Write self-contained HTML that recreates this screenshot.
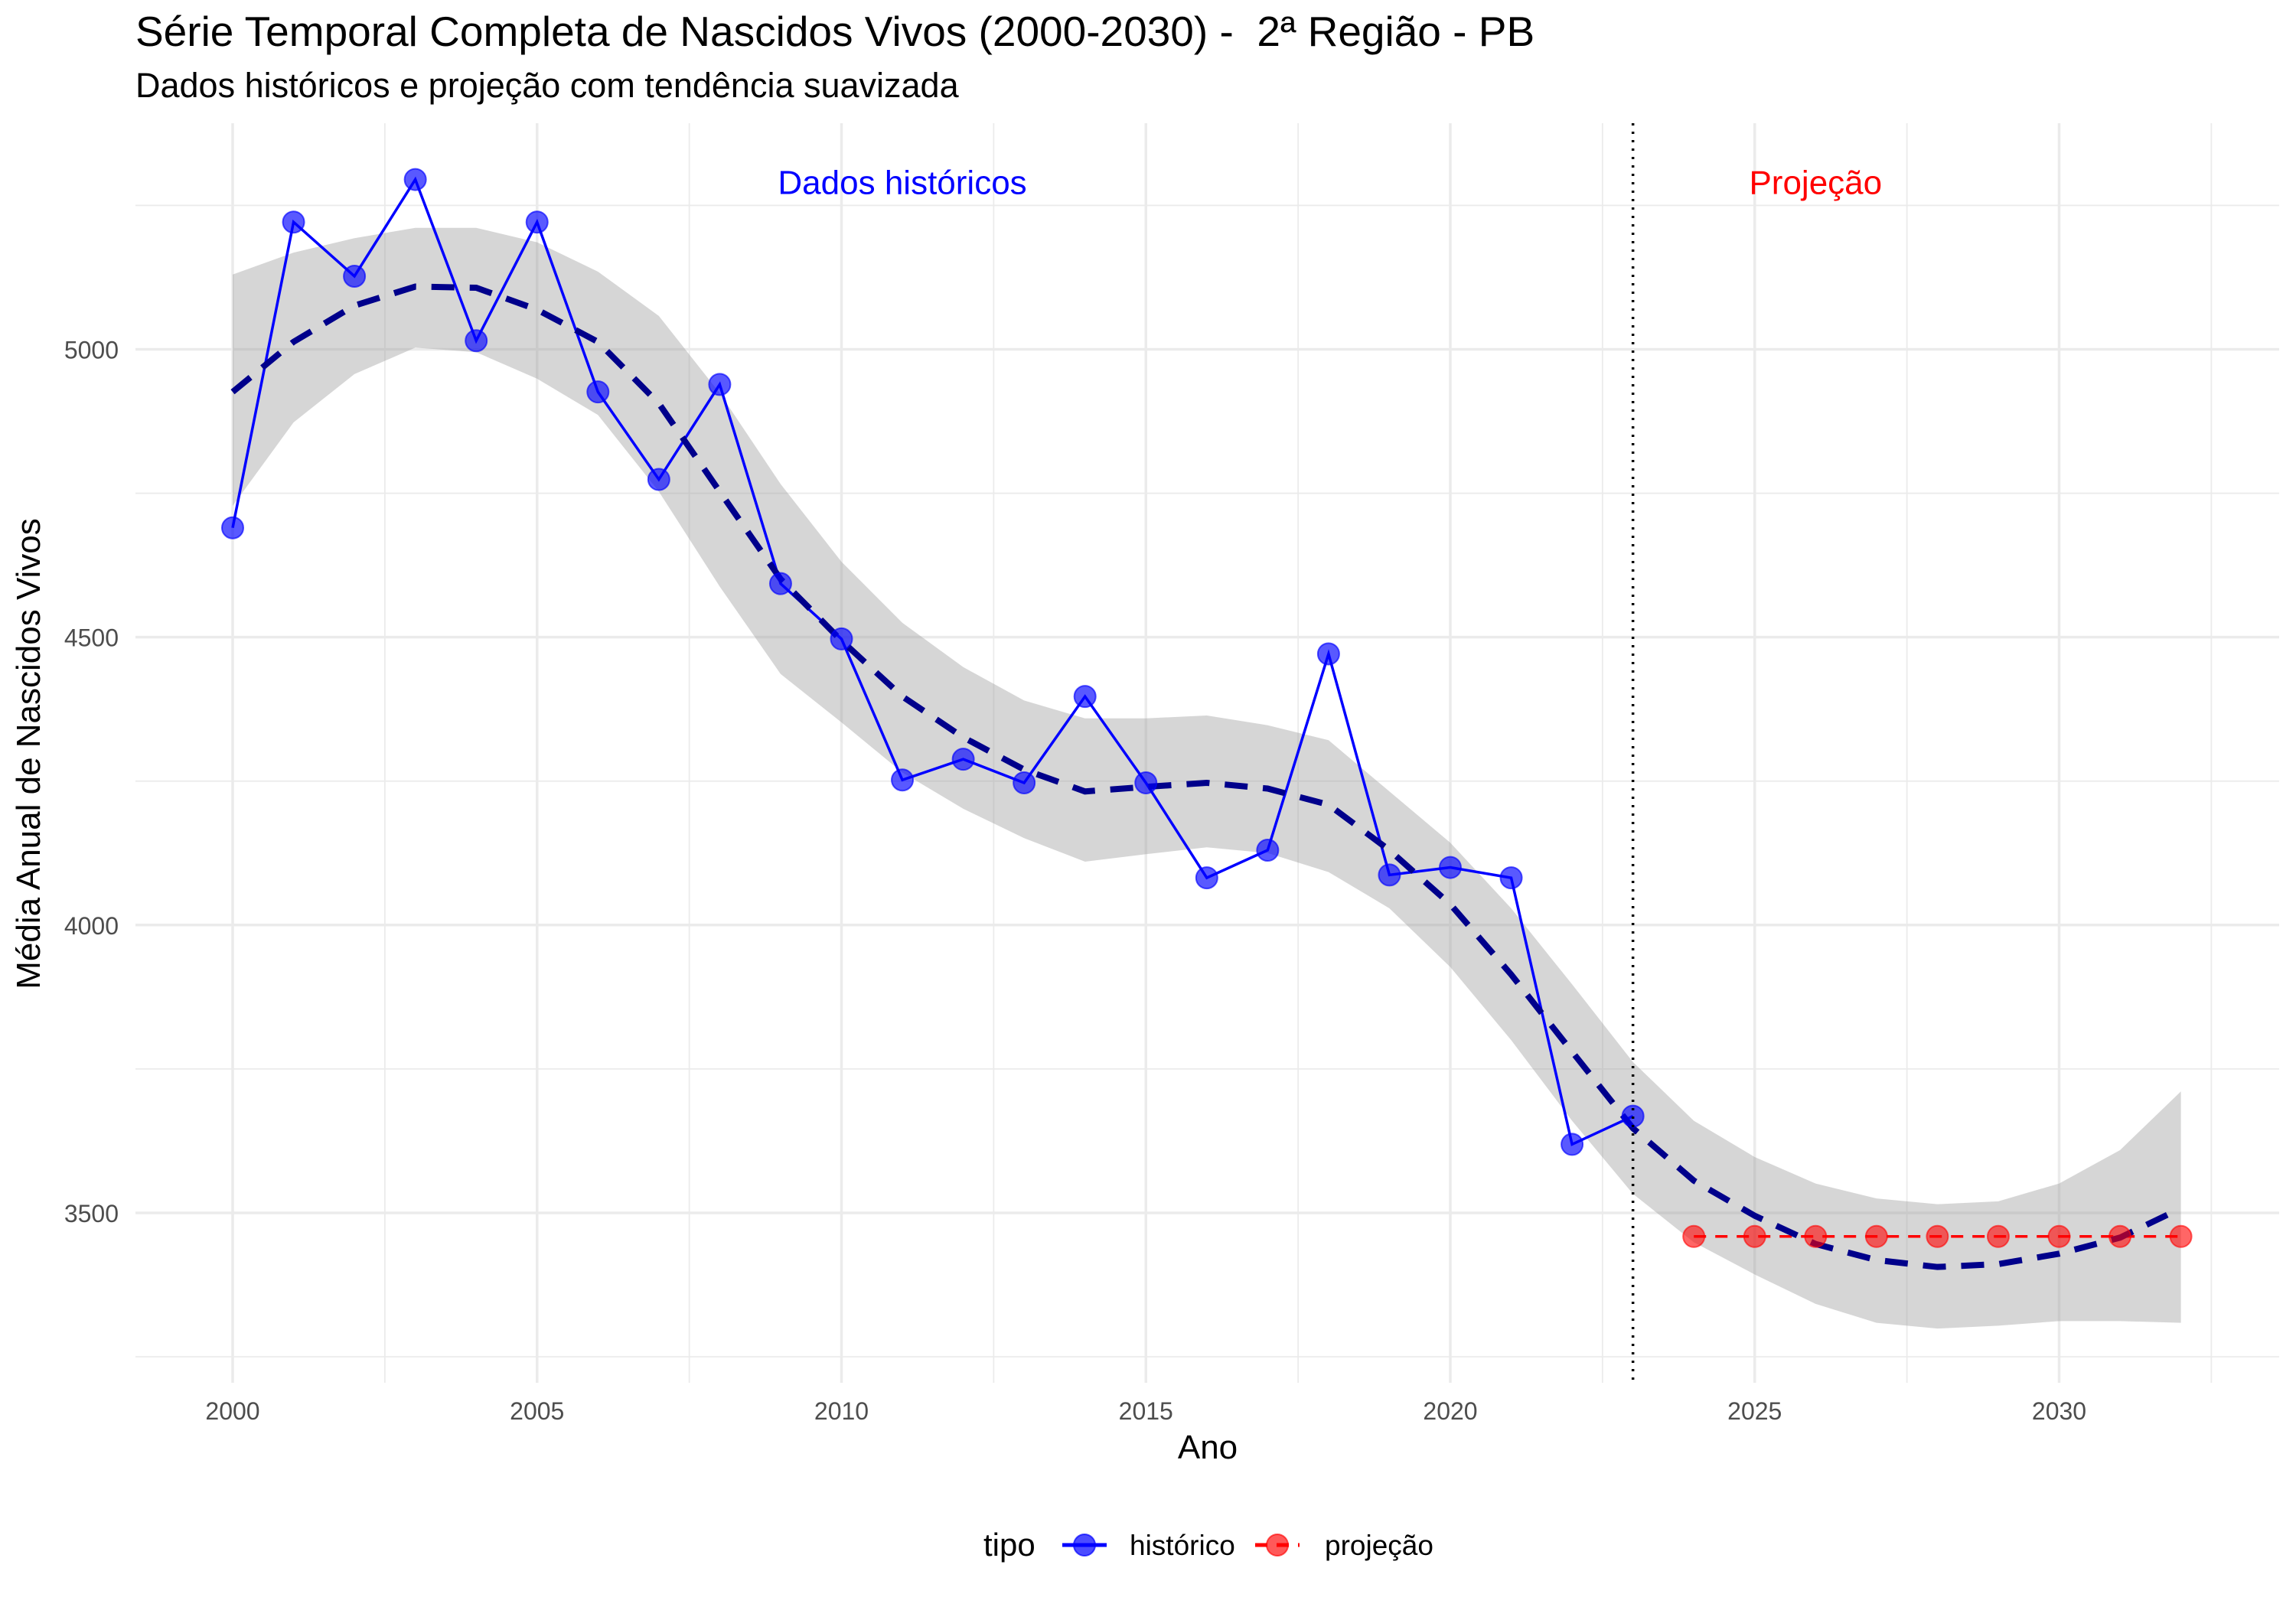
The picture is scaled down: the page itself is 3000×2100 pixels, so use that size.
<!DOCTYPE html>
<html><head><meta charset="utf-8">
<style>html,body{margin:0;padding:0;background:#fff;}svg{display:block;font-family:"Liberation Sans",sans-serif;}</style>
</head><body>
<svg id="chart" width="3000" height="2100" viewBox="0 0 3000 2100" xmlns="http://www.w3.org/2000/svg">
<text x="177" y="60" font-size="55" fill="#000" xml:space="preserve">Série Temporal Completa de Nascidos Vivos (2000-2030) -  2ª Região - PB</text>
<text x="177" y="127" font-size="45" fill="#000">Dados históricos e projeção com tendência suavizada</text>
<g id="grid"></g>
<g id="band"></g>
<g id="marks"></g>
<g id="axes"></g>
<text x="1578" y="1906" font-size="44" text-anchor="middle" fill="#000">Ano</text>
<text transform="translate(52,985) rotate(-90)" font-size="44" text-anchor="middle" fill="#000">Média Anual de Nascidos Vivos</text>
<g>
<text x="1285" y="2033" font-size="42" fill="#000">tipo</text>
<g>
<line x1="1388" y1="2019" x2="1446" y2="2019" stroke="#0000ff" stroke-width="5"/>
<circle cx="1417" cy="2019" r="14" fill="rgba(0,0,255,0.7)" stroke="rgba(0,0,255,0.7)" stroke-width="2"/>
<text x="1476" y="2032" font-size="37" fill="#000">histórico</text></g>
<g>
<line x1="1640" y1="2019" x2="1698" y2="2019" stroke="#ff0000" stroke-width="5" stroke-dasharray="16,12"/>
<circle cx="1669" cy="2019" r="14" fill="rgba(255,0,0,0.65)" stroke="rgba(255,0,0,0.65)" stroke-width="2"/>
<text x="1731" y="2032" font-size="37" fill="#000">projeção</text></g>
</g>
</svg>
<script>
const histYears=[2000,2001,2002,2003,2004,2005,2006,2007,2008,2009,2010,2011,2012,2013,2014,2015,2016,2017,2018,2019,2020,2021,2022,2023];
const histValues=[4690,5221,5127,5295,5015,5221,4926,4774,4939,4593,4497,4252,4288,4247,4397,4247,4082,4130,4471,4087,4100,4082,3619,3668];
const projYears=[2024,2025,2026,2027,2028,2029,2030,2031,2032];
const projValues=[3459,3459,3459,3459,3459,3459,3459,3459,3459];
const smoothYears=[2000,2001,2002,2003,2004,2005,2006,2007,2008,2009,2010,2011,2012,2013,2014,2015,2016,2017,2018,2019,2020,2021,2022,2023,2024,2025,2026,2027,2028,2029,2030,2031,2032];
const smoothValues=[4926,5013,5076,5109,5107,5069,5013,4906,4753,4601,4494,4397,4326,4270,4232,4240,4247,4237,4209,4130,4036,3914,3780,3647,3556,3495,3446,3418,3406,3411,3429,3457,3508];
const bandUpper=[5130,5168,5193,5211,5211,5186,5135,5058,4924,4766,4631,4525,4448,4390,4359,4359,4364,4347,4321,4232,4143,4029,3897,3762,3660,3597,3551,3525,3515,3520,3551,3609,3711];
const bandLower=[4728,4873,4957,5003,4995,4949,4886,4753,4588,4436,4352,4265,4202,4151,4110,4123,4135,4125,4092,4029,3927,3800,3660,3533,3449,3393,3342,3309,3299,3304,3312,3312,3309];
const xTicks=[2000,2005,2010,2015,2020,2025,2030];
const yTicks=[3500,4000,4500,5000];
const dividerYear=2023;

const NS="http://www.w3.org/2000/svg";
const X0=177,X1=2978,Y0=161,Y1=1807;
function xs(v){return 304+(v-2000)*79.55;}
function ys(v){return 456.5+(5000-v)*0.7523;}
function mk(parent,tag,attrs){const e=document.createElementNS(NS,tag);for(const k in attrs)e.setAttribute(k,attrs[k]);document.getElementById(parent).appendChild(e);return e;}

for(let v=3250;v<=5250;v+=250){const major=v%500===0;
 const l=mk('grid','line',{x1:X0,x2:X1,y1:ys(v),y2:ys(v),stroke:'#ebebeb','stroke-width':major?3.5:1.8});
 
 }
for(let v=1997.5;v<=2035;v+=2.5){const px=xs(v);if(px<X0||px>X1)continue;const major=v%5===0;
 const l=mk('grid','line',{x1:px,x2:px,y1:Y0,y2:Y1,stroke:'#ebebeb','stroke-width':major?3.5:1.8});
 
 }
xTicks.forEach(t=>{const e=mk('axes','text',{x:xs(t),y:1855,'font-size':32,'text-anchor':'middle',fill:'#4d4d4d'});e.textContent=t;
 
 });
yTicks.forEach(t=>{const e=mk('axes','text',{x:155,y:ys(t)+12,'font-size':32,'text-anchor':'end',fill:'#4d4d4d'});e.textContent=t;
 
 });
let d='';smoothYears.forEach((yr,i)=>{d+=(i?'L':'M')+xs(yr)+','+ys(bandUpper[i]);});
for(let i=smoothYears.length-1;i>=0;i--)d+='L'+xs(smoothYears[i])+','+ys(bandLower[i]);
const band=mk('band','path',{d:d+'Z',fill:'#999999','fill-opacity':0.4});


const hl=mk('marks','polyline',{points:histYears.map((y,i)=>xs(y)+','+ys(histValues[i])).join(' '),fill:'none',stroke:'#0000ff','stroke-width':3.5});


const pl=mk('marks','polyline',{points:projYears.map((y,i)=>xs(y)+','+ys(projValues[i])).join(' '),fill:'none',stroke:'#ff0000','stroke-width':3.5,'stroke-dasharray':'16,12'});


const sl=mk('marks','polyline',{points:smoothYears.map((y,i)=>xs(y)+','+ys(smoothValues[i])).join(' '),fill:'none',stroke:'#00008b','stroke-width':8,'stroke-dasharray':'30,20'});


histYears.forEach((y,i)=>{const c=mk('marks','circle',{cx:xs(y),cy:ys(histValues[i]),r:14,fill:'rgba(0,0,255,0.65)',stroke:'rgba(0,0,255,0.65)','stroke-width':2});
 
 });
projYears.forEach((y,i)=>{const c=mk('marks','circle',{cx:xs(y),cy:ys(projValues[i]),r:14,fill:'rgba(255,0,0,0.6)',stroke:'rgba(255,0,0,0.6)','stroke-width':2});
 
 });
const dv=mk('marks','line',{x1:xs(dividerYear),x2:xs(dividerYear),y1:Y0,y2:Y1,stroke:'#000','stroke-width':3.5,'stroke-dasharray':'3,8'});


const a1=mk('marks','text',{x:xs(2011),y:ys(5290)+15,'font-size':44,'text-anchor':'middle',fill:'#0000ff'});a1.textContent='Dados históricos';


const a2=mk('marks','text',{x:xs(2026),y:ys(5290)+15,'font-size':44,'text-anchor':'middle',fill:'#ff0000'});a2.textContent='Projeção';


</script>
</body></html>
